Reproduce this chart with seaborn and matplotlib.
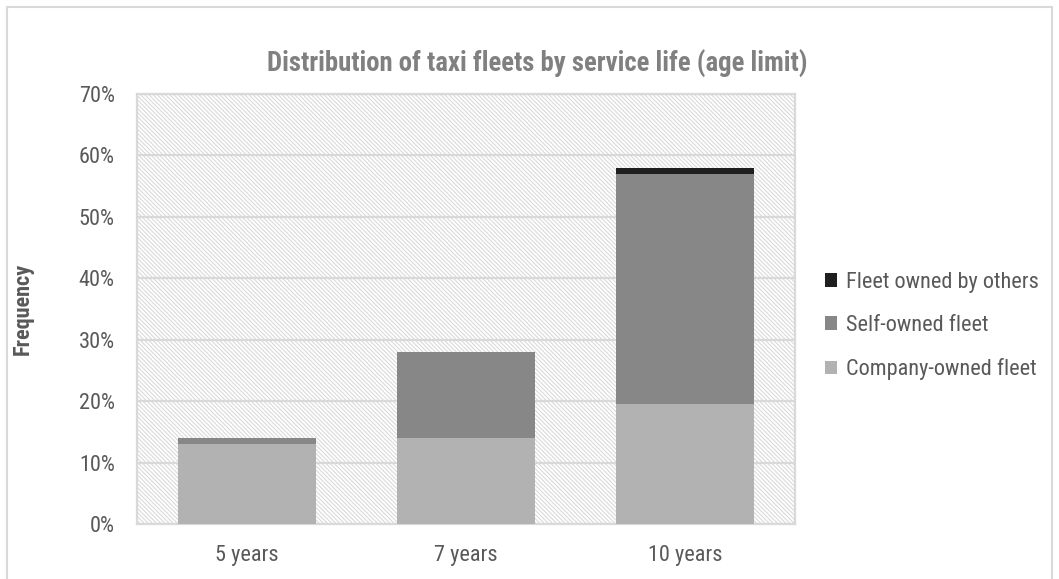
import numpy as np
import pandas as pd
import seaborn as sns
import matplotlib.pyplot as plt
from matplotlib.patches import Rectangle, Patch
from matplotlib.ticker import PercentFormatter

# data (percent)
categories = ["5 years", "7 years", "10 years"]
company_owned = [13.0, 14.0, 19.5]
self_owned = [1.0, 14.0, 37.5]
others = [0.0, 0.0, 1.0]

series_names = ["Company-owned fleet", "Self-owned fleet", "Fleet owned by others"]
colors = ["#b2b2b2", "#878787", "#1f1f1f"]

df = pd.DataFrame({"cat": categories,
                   "Company-owned fleet": company_owned,
                   "Self-owned fleet": self_owned,
                   "Fleet owned by others": others})

sns.set_style("white")
plt.rcParams["font.family"] = ["Roboto Condensed", "Liberation Sans", "DejaVu Sans"]
plt.rcParams["hatch.color"] = "#dadada"
plt.rcParams["hatch.linewidth"] = 0.8

fig = plt.figure(figsize=(10.59, 5.79), dpi=100)
ax = fig.add_axes([137 / 1059, 1 - 524 / 579, (795 - 137) / 1059, (524 - 94) / 579])

# hatched plot area
ax.patch.set_facecolor("white")
ax.patch.set_hatch("\\" * 8)
ax.patch.set_edgecolor("#dadada")
ax.patch.set_linewidth(0)

# stacked bars: draw cumulative totals from top layer down
cum = np.zeros(len(categories))
cums = []
for name in series_names:
    cum = cum + df[name].values
    cums.append(cum.copy())
for name, c, total in reversed(list(zip(series_names, colors, cums))):
    sns.barplot(x=df["cat"], y=total, color=c, width=0.63, ax=ax,
                saturation=1, edgecolor="none", linewidth=0, zorder=3)

ax.set_ylim(0, 70)
ax.set_xlim(-0.5, 2.5)
ax.set_yticks(np.arange(0, 71, 10))
ax.yaxis.set_major_formatter(PercentFormatter(decimals=0))
ax.grid(axis="y", color="#d9d9d9", linewidth=1.6, zorder=1)
ax.set_axisbelow(True)
for s in ax.spines.values():
    s.set_color("#d9d9d9")
    s.set_linewidth(1.6)
ax.tick_params(axis="both", length=0, labelsize=16, colors="#595959")
ax.tick_params(axis="x", pad=15)
ax.tick_params(axis="y", pad=16)
ax.set_xlabel("")
ax.set_ylabel("Frequency", fontsize=16, fontweight="bold", color="#595959", labelpad=32)

fig.text(537 / 1059, 1 - 64 / 579, "Distribution of taxi fleets by service life (age limit)",
         ha="center", va="center", fontsize=19.3, fontweight="bold", color="#808080")

handles = [Patch(facecolor=c, edgecolor="none", label=n)
           for n, c in reversed(list(zip(series_names, colors)))]
leg = fig.legend(handles=handles, loc="center left", bbox_to_anchor=(805 / 1059, 1 - 326 / 579),
                 frameon=False, fontsize=16, handlelength=0.55, handleheight=0.55,
                 handletextpad=0.4, labelspacing=1.0)
for t in leg.get_texts():
    t.set_color("#595959")

# outer chart border
fig.patches.append(Rectangle((7 / 1059, -0.05), (1052 - 7) / 1059, 1 - 7 / 579 + 0.05,
                             transform=fig.transFigure, fill=False,
                             edgecolor="#d9d9d9", linewidth=1.5))

fig.savefig("out.png", dpi=100)
